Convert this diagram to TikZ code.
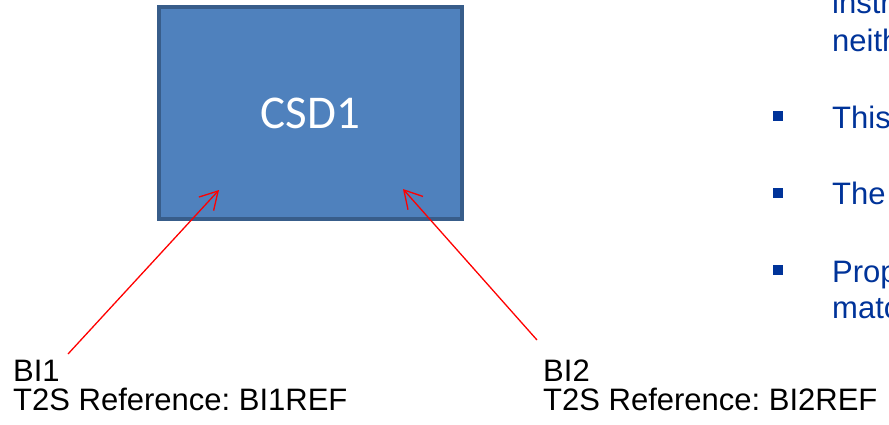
\documentclass[tikz,border=0pt]{standalone}
\usepackage{fontspec}
\setmainfont{Liberation Sans}
\newfontfamily\carlito{Carlito}
\usetikzlibrary{arrows.meta}
\definecolor{csdfill}{HTML}{4F81BD}
\definecolor{csdedge}{HTML}{385D8A}
\definecolor{noteblue}{HTML}{003399}
\frenchspacing

\begin{document}
\begin{tikzpicture}[x=1pt,y=-1pt,
  lbl/.style={font=\fontsize{31}{31}\selectfont,inner sep=0pt,anchor=base west},
  note/.style={lbl,text=noteblue},
  sq/.style={fill=noteblue,minimum size=10pt,inner sep=0pt},
  ptr/.style={red,line width=1.3pt,-{Straight Barb[length=17.5pt,width=20pt]}}]
  \useasboundingbox (0,0) rectangle (889,424);
  \clip (0,0) rectangle (889,424);
  \node[draw=csdedge,fill=csdfill,line width=4pt,minimum width=303pt,minimum height=212pt,
        inner sep=0pt,text=white,font=\carlito\fontsize{47}{47}\selectfont] (csd) at (310.5,113) {CSD1};
  \node[lbl] (bi1) at (13,381) {BI1}; \node[lbl] (bi1ref) at (13,410) {T2S Reference: BI1REF};
  \node[lbl] (bi2) at (543,381) {BI2}; \node[lbl] (bi2ref) at (543,410) {T2S Reference: BI2REF};
  \coordinate (bi1tail) at (68,354); \coordinate (bi1tip) at (219,190);
  \coordinate (bi2tail) at (537,340); \coordinate (bi2tip) at (403,189);
  \draw[ptr] (bi1tail) -- (bi1tip); \draw[ptr] (bi2tail) -- (bi2tip);
  % notes on the right, cut off by the page edge
  \node[note] (n1) at (832,13) {instr}; \node[note] (n2) at (832,51) {neith};
  \node[sq] (s1) at (778,116) {}; \node[note] (n3) at (832,128) {This};
  \node[sq] (s2) at (778,193) {}; \node[note] (n4) at (832,204) {The};
  \node[sq] (s3) at (778,270) {}; \node[note] (n5) at (832,282) {Prop};
  \node[note] (n6) at (832,318) {matc};
\end{tikzpicture}
\end{document}
